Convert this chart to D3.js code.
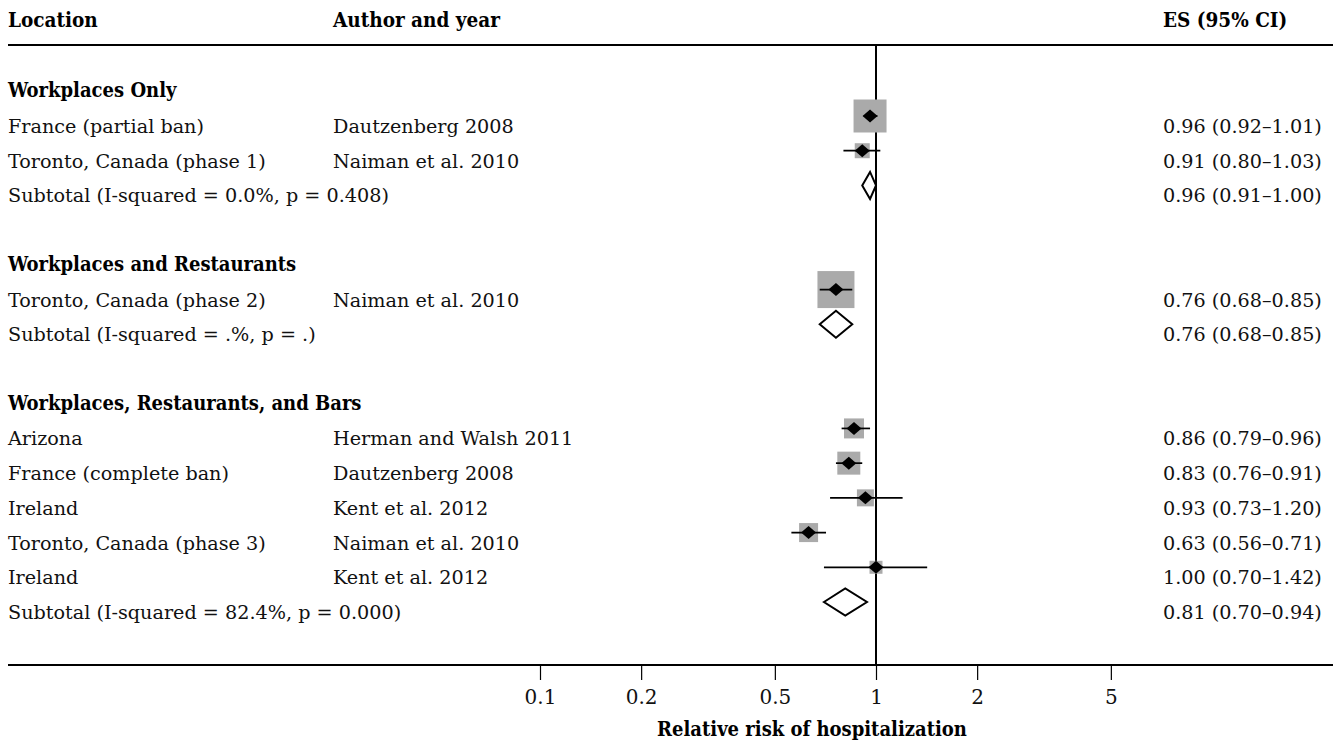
<!DOCTYPE html>
<html>
<head>
<meta charset="utf-8">
<script src="https://cdn.jsdelivr.net/npm/d3@7"></script>
<style>
  html, body { margin: 0; padding: 0; background: #fff; }
  svg { display: block; }
  .txt { font-family: "DejaVu Serif", serif; font-size: 19.2px; fill: #111; }
  .bold { font-family: "DejaVu Serif Condensed", "DejaVu Serif", serif; font-stretch: condensed; font-weight: bold; font-size: 20px; fill: #000; }
  .hdr { font-size: 20.5px; }
</style>
</head>
<body>
<svg id="chart" width="1333" height="744"></svg>
<script>
// ---------- data ----------
const headers = ["Location", "Author and year", "ES (95% CI)"];
const groupNames = ["Workplaces Only", "Workplaces and Restaurants", "Workplaces, Restaurants, and Bars"];
const studyGroup = [0, 0, 1, 2, 2, 2, 2, 2];
const locations = ["France (partial ban)", "Toronto, Canada (phase 1)", "Toronto, Canada (phase 2)",
  "Arizona", "France (complete ban)", "Ireland", "Toronto, Canada (phase 3)", "Ireland"];
const authors = ["Dautzenberg 2008", "Naiman et al. 2010", "Naiman et al. 2010",
  "Herman and Walsh 2011", "Dautzenberg 2008", "Kent et al. 2012", "Naiman et al. 2010", "Kent et al. 2012"];
const es = [0.96, 0.91, 0.76, 0.86, 0.83, 0.93, 0.63, 1.00];
const lo = [0.92, 0.80, 0.68, 0.79, 0.76, 0.73, 0.56, 0.70];
const hi = [1.01, 1.03, 0.85, 0.96, 0.91, 1.20, 0.71, 1.42];
const weights = [79.5, 16.4, 100, 29.2, 38.6, 21.1, 26.4, 12.3]; // relative box weights (estimated)
const subLabels = ["Subtotal (I-squared = 0.0%, p = 0.408)", "Subtotal (I-squared = .%, p = .)", "Subtotal (I-squared = 82.4%, p = 0.000)"];
const subES = [0.96, 0.76, 0.81];
const subLo = [0.91, 0.68, 0.70];
const subHi = [1.00, 0.85, 0.94];
const tickValues = [0.1, 0.2, 0.5, 1, 2, 5];
const tickLabels = ["0.1", "0.2", "0.5", "1", "2", "5"];
const axisTitle = "Relative risk of hospitalization";

// ---------- build rows ----------
const rows = [];
groupNames.forEach((g, gi) => {
  if (gi > 0) rows.push({ type: "blank" });
  rows.push({ type: "group", label: g });
  studyGroup.forEach((sg, i) => { if (sg === gi) rows.push({ type: "study", i }); });
  rows.push({ type: "sub", gi });
});

const fmt = d3.format(".2f");
const svg = d3.select("#chart");
const W = 1333;
const x = d3.scaleLog().domain([0.1, 1]).range([540, 876]);
const y = d3.scaleLinear().domain([1, rows.length - 1]).range([116, 602]);
const size = d3.scaleSqrt().domain([0, 100]).range([0, 37]);

const colLoc = 8, colAuth = 333, colES = 1163;
const topLine = 45, axisY = 665;
const textDY = 17;

// header
svg.append("g").selectAll("text").data(headers).join("text")
  .attr("class", "bold hdr")
  .attr("x", (d, i) => [colLoc, colAuth, colES][i])
  .attr("y", 27)
  .text(d => d);

// lines
svg.append("line").attr("x1", 8).attr("x2", W).attr("y1", topLine).attr("y2", topLine)
  .attr("stroke", "#000").attr("stroke-width", 2);
svg.append("line").attr("x1", x(1)).attr("x2", x(1)).attr("y1", topLine).attr("y2", axisY)
  .attr("stroke", "#000").attr("stroke-width", 2);

// rows text
const rowG = svg.append("g");
rows.forEach((r, ri) => {
  const yy = y(ri) + textDY;
  if (r.type === "group") {
    rowG.append("text").attr("class", "bold").attr("x", colLoc).attr("y", yy - 1).text(r.label);
  } else if (r.type === "study") {
    rowG.append("text").attr("class", "txt").attr("x", colLoc).attr("y", yy).text(locations[r.i]);
    rowG.append("text").attr("class", "txt").attr("x", colAuth).attr("y", yy).text(authors[r.i]);
    rowG.append("text").attr("class", "txt").attr("x", colES).attr("y", yy)
      .text(`${fmt(es[r.i])} (${fmt(lo[r.i])}\u2013${fmt(hi[r.i])})`);
  } else if (r.type === "sub") {
    rowG.append("text").attr("class", "txt").attr("x", colLoc).attr("y", yy).text(subLabels[r.gi]);
    rowG.append("text").attr("class", "txt").attr("x", colES).attr("y", yy)
      .text(`${fmt(subES[r.gi])} (${fmt(subLo[r.gi])}\u2013${fmt(subHi[r.gi])})`);
  }
});

// markers
const markG = svg.append("g");
rows.forEach((r, ri) => {
  const cy = y(ri);
  if (r.type === "study") {
    const i = r.i, s = size(weights[i]);
    markG.append("rect").attr("x", x(es[i]) - s / 2).attr("y", cy - s / 2)
      .attr("width", s).attr("height", s).attr("fill", "#aaaaaa");
    markG.append("line").attr("x1", x(lo[i])).attr("x2", x(hi[i])).attr("y1", cy).attr("y2", cy)
      .attr("stroke", "#000").attr("stroke-width", 1.7);
    const cx = x(es[i]);
    markG.append("path")
      .attr("d", `M${cx - 7.5},${cy} L${cx},${cy - 6.5} L${cx + 7.5},${cy} L${cx},${cy + 6.5} Z`)
      .attr("fill", "#000");
  } else if (r.type === "sub") {
    const gi = r.gi, h = 13.5;
    markG.append("path")
      .attr("d", `M${x(subLo[gi])},${cy} L${x(subES[gi])},${cy - h} L${x(subHi[gi])},${cy} L${x(subES[gi])},${cy + h} Z`)
      .attr("fill", "#fff").attr("stroke", "#000").attr("stroke-width", 2).attr("stroke-linejoin", "miter");
  }
});

// axis
const axis = d3.axisBottom(x).tickValues(tickValues)
  .tickFormat((d, i) => tickLabels[i]).tickSize(15).tickPadding(10);
const ag = svg.append("g").attr("transform", `translate(0,${axisY})`).call(axis);
ag.select(".domain").remove();
ag.selectAll(".tick line").attr("stroke", "#000").attr("stroke-width", 1.2);
ag.selectAll(".tick text").attr("class", "txt").attr("fill", "#111").style("font-size", "20px");
svg.append("line").attr("x1", 8).attr("x2", W).attr("y1", axisY).attr("y2", axisY)
  .attr("stroke", "#000").attr("stroke-width", 2);

svg.append("text").attr("class", "bold").attr("x", 812).attr("y", 736)
  .attr("text-anchor", "middle").text(axisTitle);
</script>
</body>
</html>
